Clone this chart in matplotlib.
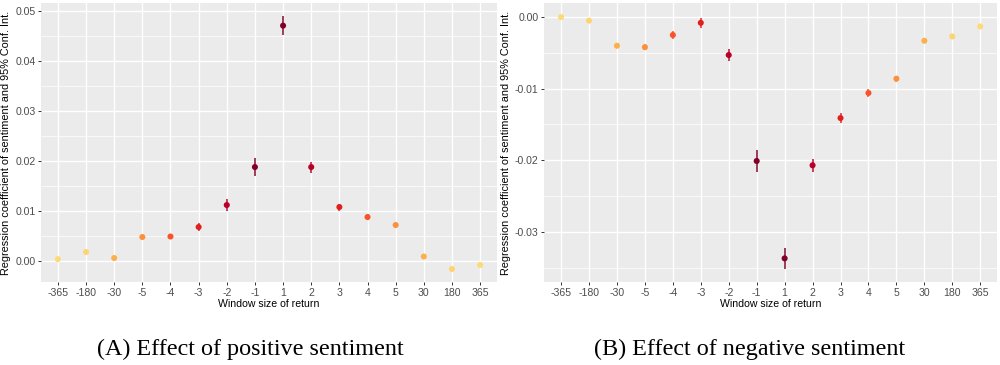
import matplotlib.pyplot as plt
from matplotlib.ticker import MultipleLocator

plt.rcParams['font.family'] = ['Liberation Sans', 'DejaVu Sans']

windows = ['-365', '-180', '-30', '-5', '-4', '-3', '-2', '-1',
           '1', '2', '3', '4', '5', '30', '180', '365']

# positive sentiment: coefficient and half-width of 95% CI
pos_coef = [0.00027, 0.0017, 0.0005, 0.0047, 0.0048, 0.0067, 0.0111, 0.0187,
            0.0470, 0.0187, 0.0107, 0.0087, 0.0071, 0.0008, -0.0017, -0.0009]
pos_ci = [0.0002, 0.0002, 0.0002, 0.0003, 0.0004, 0.0008, 0.0012, 0.0018,
          0.0019, 0.0011, 0.0007, 0.0006, 0.0004, 0.0002, 0.0002, 0.0002]

# negative sentiment
neg_coef = [0.0000, -0.0005, -0.0040, -0.0042, -0.0025, -0.0008, -0.0053, -0.0201,
            -0.0337, -0.0207, -0.0141, -0.0106, -0.0086, -0.0033, -0.0027, -0.0013]
neg_ci = [0.0002, 0.0002, 0.0002, 0.0004, 0.0005, 0.0007, 0.0009, 0.0015,
          0.0015, 0.0009, 0.0007, 0.0006, 0.0004, 0.0002, 0.0002, 0.0002]

# colour by |window| rank (YlOrRd-like)
rank_colors = {'365': '#fed976', '180': '#fed470', '30': '#fdb04a', '5': '#fd903c',
               '4': '#f9532a', '3': '#e0201e', '2': '#b90026', '1': '#800026'}

captions = ['(A) Effect of positive sentiment', '(B) Effect of negative sentiment']

fig = plt.figure(figsize=(10, 3.65), dpi=100)
ax1 = fig.add_axes([0.041, 0.2274, 0.456, 0.764])
ax2 = fig.add_axes([0.5443, 0.2274, 0.4527, 0.764])


def draw_panel(ax, coef, ci, ylim, major, minor, fmt):
    ax.set_facecolor('#ebebeb')
    for s in ax.spines.values():
        s.set_visible(False)
    x = range(len(windows))
    cols = [rank_colors[w.lstrip('-')] for w in windows]
    for xi, c, e, col in zip(x, coef, ci, cols):
        ax.plot([xi, xi], [c - e, c + e], color=col, lw=1.4, alpha=0.75,
                solid_capstyle='butt', zorder=3)
        ax.scatter(xi, c, s=19, color=col, edgecolors='none', zorder=4)
    ax.set_xlim(-0.6, len(windows) - 0.4)
    ax.set_ylim(*ylim)
    ax.set_xticks(list(x))
    ax.set_xticklabels(windows)
    ax.yaxis.set_major_locator(MultipleLocator(major))
    ax.yaxis.set_minor_locator(MultipleLocator(minor))
    ax.yaxis.set_major_formatter(plt.FuncFormatter(lambda v, p: fmt.format(v + 0.0)))
    ax.grid(which='major', color='white', lw=1.0, zorder=0)
    ax.grid(which='minor', axis='y', color='white', lw=0.5, zorder=0)
    ax.set_axisbelow(True)
    ax.tick_params(which='major', length=2.5, width=0.7, color='#333333',
                   labelsize=7.6, labelcolor='#4d4d4d', pad=1.5)
    ax.tick_params(which='minor', length=0)
    ax.set_xlabel('Window size of return', fontsize=7.6, labelpad=1)
    ax.set_ylabel('Regression coefficient of sentiment and 95% Conf. Int.',
                  fontsize=7.8, labelpad=3)


draw_panel(ax1, pos_coef, pos_ci, (-0.0043, 0.0515), 0.01, 0.005, '{:.2f}')
draw_panel(ax2, neg_coef, neg_ci, (-0.0370, 0.00195), 0.01, 0.005, '{:.2f}')

fig.text(0.25, 0.044, captions[0], ha='center', va='center',
         fontsize=17.4, family='Liberation Serif')
fig.text(0.75, 0.044, captions[1], ha='center', va='center',
         fontsize=17.4, family='Liberation Serif')

fig.savefig('out.png', dpi=100)
